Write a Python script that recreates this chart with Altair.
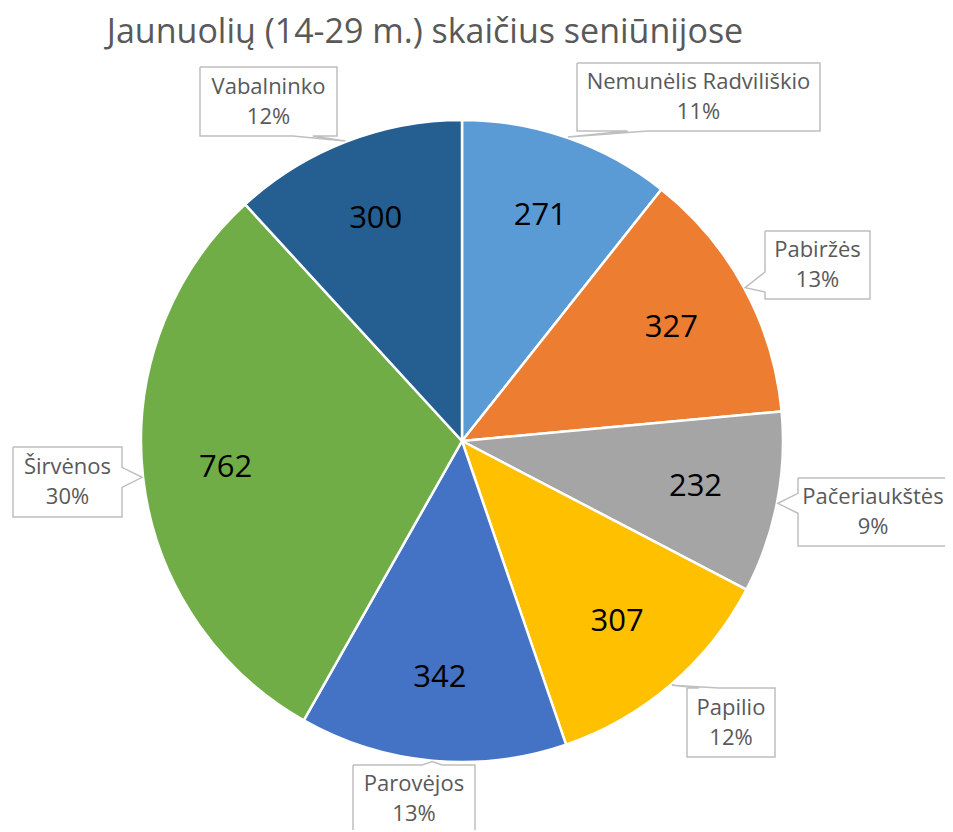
import math
import altair as alt
import pandas as pd

# ---- data ----
names = ["Nemunėlis Radviliškio", "Pabiržės", "Pačeriaukštės", "Papilio",
         "Parovėjos", "Širvėnos", "Vabalninko"]
values = [271, 327, 232, 307, 342, 762, 300]
colors = ["#5B9BD5", "#ED7D31", "#A5A5A5", "#FFC000", "#4472C4", "#70AD47", "#255E91"]
title_text = "Jaunuolių (14-29 m.) skaičius seniūnijose"

# ---- layout (reference pixel coordinates) ----
W, H, OFF = 937, 822, 8
CX, CY, R = 462, 441, 321
LABEL_R = 238
# callout boxes: centre x, centre y, width, height
boxes = [
    (698.5, 97, 243, 68),
    (817.5, 265, 105, 68),
    (873, 512, 150, 68),
    (731, 722.5, 88, 69),
    (414, 799, 122, 68),
    (67.5, 482, 109, 70),
    (268.5, 101.5, 137, 69),
]
FONT = "Open Sans"
TXT = "#595959"

total = sum(values)
df = pd.DataFrame({"name": names, "value": values, "idx": range(len(names))})

# callout labels
lab_rows = []
poly_rows = []
cum = 0
for i, (n, v) in enumerate(zip(names, values)):
    mid = (cum + v / 2) / total * 2 * math.pi
    cum += v
    cx, cy, w, h = boxes[i]
    pct = f"{round(v / total * 100)}%"
    lab_rows.append({"name": n, "pct": pct, "x": cx, "y1": cy - 15, "y2": cy + 15})
    l, r, t, b = cx - w / 2, cx + w / 2, cy - h / 2, cy + h / 2
    tx, ty = CX + (R + 1) * math.sin(mid), CY - (R + 1) * math.cos(mid)
    hw = 10
    pts = [(l, t)]
    if ty < t:
        bc = min(max(tx, l + w * 0.25), r - w * 0.25)
        pts += [(bc - hw, t), (tx, ty), (bc + hw, t), (r, t), (r, b), (l, b)]
    elif ty > b:
        bc = min(max(tx, l + w * 0.25), r - w * 0.25)
        pts += [(r, t), (r, b), (bc + hw, b), (tx, ty), (bc - hw, b), (l, b)]
    elif tx < l:
        bc = min(max(ty, t + h * 0.25), b - h * 0.25)
        pts += [(r, t), (r, b), (l, b), (l, bc + hw), (tx, ty), (l, bc - hw)]
    else:
        bc = min(max(ty, t + h * 0.25), b - h * 0.25)
        pts += [(r, t), (r, bc - hw), (tx, ty), (r, bc + hw), (r, b), (l, b)]
    pts.append((l, t))
    for k, (px, py) in enumerate(pts):
        poly_rows.append({"name": n, "seq": k, "px": px, "py": py})

df_lab = pd.DataFrame(lab_rows)
df_poly = pd.DataFrame(poly_rows)

xs = alt.Scale(domain=[OFF, OFF + W], nice=False, zero=False)
ys = alt.Scale(domain=[OFF, OFF + H], nice=False, zero=False, reverse=True)

pie = alt.Chart(df).mark_arc(
    x=CX - OFF, y=CY - OFF, outerRadius=R, stroke="white", strokeWidth=2.5
).encode(
    theta=alt.Theta("value:Q", stack=True),
    color=alt.Color("name:N", scale=alt.Scale(domain=names, range=colors), legend=None),
    order=alt.Order("idx:Q"),
)

vals = alt.Chart(df).mark_text(
    x=CX - OFF, y=CY - OFF, radius=LABEL_R, font=FONT, fontSize=31, color="black",
    baseline="middle", align="center"
).encode(
    theta=alt.Theta("value:Q", stack=True),
    text=alt.Text("value:Q"),
    order=alt.Order("idx:Q"),
)

outline = alt.Chart(df_poly).mark_line(stroke="#BFBFBF", strokeWidth=1.5).encode(
    x=alt.X("px:Q", scale=xs, axis=None),
    y=alt.Y("py:Q", scale=ys, axis=None),
    detail="name:N",
    order="seq:Q",
)

lab1 = alt.Chart(df_lab).mark_text(font=FONT, fontSize=22, color=TXT, baseline="middle").encode(
    x=alt.X("x:Q", scale=xs, axis=None),
    y=alt.Y("y1:Q", scale=ys, axis=None),
    text="name:N",
)
lab2 = alt.Chart(df_lab).mark_text(font=FONT, fontSize=22, color=TXT, baseline="middle").encode(
    x=alt.X("x:Q", scale=xs, axis=None),
    y=alt.Y("y2:Q", scale=ys, axis=None),
    text="pct:N",
)

title = alt.Chart(pd.DataFrame({"t": [title_text]})).mark_text(
    x=425 - OFF, y=33 - OFF, font=FONT, fontSize=34, color=TXT, baseline="middle"
).encode(text="t:N")

chart = alt.layer(pie, vals, outline, lab1, lab2, title).properties(
    width=W, height=H, autosize=alt.AutoSizeParams(type="none"), padding=0
).configure_view(stroke=None)

chart.save("out.html", embed_options={"renderer": "svg", "actions": False})
